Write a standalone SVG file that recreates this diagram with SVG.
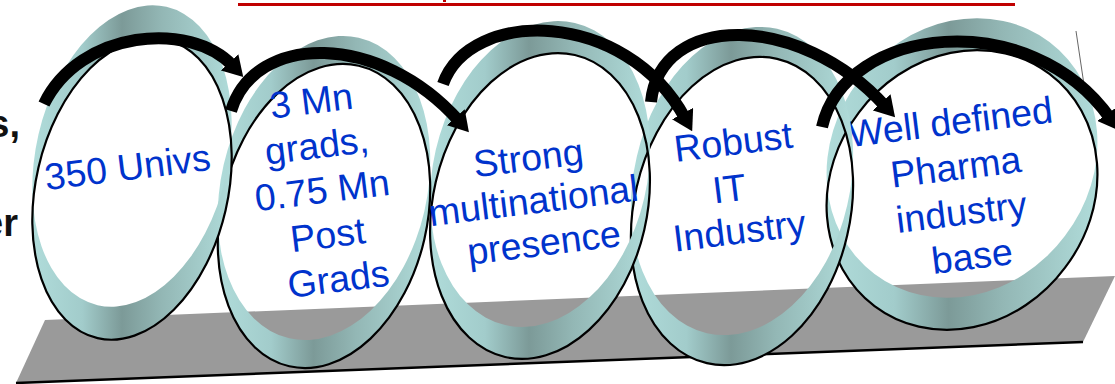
<svg xmlns="http://www.w3.org/2000/svg" width="1115" height="384" viewBox="0 0 1115 384">
  <defs>
    <style>
      .band { fill: url(#teal); fill-rule: evenodd; }
      .edge { fill: none; stroke: #000; stroke-width: 2.2; }
      .label { font-family: "Liberation Sans", Arial, sans-serif; font-size: 37.5px; fill: #0033cc; text-anchor: middle; }
      .side { font-family: "Liberation Sans", Arial, sans-serif; font-size: 38px; font-weight: bold; fill: #111; text-anchor: end; }
      .arrow { fill: none; stroke: #000; stroke-width: 12; marker-end: url(#head); }
    </style>
    <linearGradient id="teal" x1="0" y1="0" x2="1" y2="0">
      <stop offset="0" stop-color="#b0dcda"/>
      <stop offset="0.25" stop-color="#a2cccb"/>
      <stop offset="0.45" stop-color="#7c9a98"/>
      <stop offset="0.65" stop-color="#93b7b5"/>
      <stop offset="1" stop-color="#b0dcda"/>
    </linearGradient>
    <marker id="head" markerUnits="userSpaceOnUse" markerWidth="20" markerHeight="24" refX="5" refY="12" orient="auto">
      <path d="M0,0 L20,12 L0,24 Z" fill="#000"/>
    </marker>
  </defs>

  <!-- title rule -->
  <rect x="238" y="3" width="777" height="3" fill="#c00000"/>
  <rect x="443" y="0" width="3" height="2" fill="#c00000"/>

  <!-- clipped text at the left edge -->
  <g id="side-text">
    <text class="side" x="20" y="137">s,</text>
    <text class="side" x="18" y="236">er</text>
  </g>

  <!-- base platform -->
  <g id="platform">
    <polygon points="45,320 1115,276 1083,342 16,383" fill="#9a9a9a"/>
    <line x1="16" y1="383" x2="1083" y2="342" stroke="#000" stroke-width="2.5"/>
  </g>
  <line x1="1076" y1="31" x2="1090" y2="125" stroke="#666" stroke-width="1"/>

  <!-- rings: band = outer loop XOR inner loop, front edge stroked -->
  <g id="ring-5">
    <path class="band" d="M858.98,80.37 A129,144 37 1 0 1065.02,235.63 A129,144 37 1 0 858.98,80.37 Z M858.98,112.37 A129,144 37 1 0 1065.02,267.63 A129,144 37 1 0 858.98,112.37 Z"/>
    <path class="edge" d="M858.98,112.37 A129,144 37 1 0 1065.02,267.63 A129,144 37 1 0 858.98,112.37 Z"/>
    <text class="label" transform="translate(957 134) rotate(-7)">
      <tspan x="0" y="0">Well defined</tspan>
      <tspan x="0" y="45.5">Pharma</tspan>
      <tspan x="0" y="91">industry</tspan>
      <tspan x="0" y="136">base</tspan>
    </text>
  </g>

  <g id="ring-4">
    <path class="band" d="M636.77,156.71 A108,155 13 1 0 847.23,205.29 A108,155 13 1 0 636.77,156.71 Z M636.77,186.71 A108,155 13 1 0 847.23,235.29 A108,155 13 1 0 636.77,186.71 Z"/>
    <path class="edge" d="M636.77,186.71 A108,155 13 1 0 847.23,235.29 A108,155 13 1 0 636.77,186.71 Z"/>
    <text class="label" transform="translate(740 154) rotate(-7)">
      <tspan x="0" y="0">Robust</tspan>
      <tspan x="-10" y="46">IT</tspan>
      <tspan x="-10" y="89">Industry</tspan>
    </text>
  </g>

  <g id="ring-3">
    <path class="band" d="M435.74,149.93 A107,155 13 1 0 644.26,198.07 A107,155 13 1 0 435.74,149.93 Z M435.74,181.93 A107,155 13 1 0 644.26,230.07 A107,155 13 1 0 435.74,181.93 Z"/>
    <path class="edge" d="M435.74,181.93 A107,155 13 1 0 644.26,230.07 A107,155 13 1 0 435.74,181.93 Z"/>
    <text class="label" transform="translate(535 170) rotate(-7)">
      <tspan x="0" y="0">Strong</tspan>
      <tspan x="0" y="43">multinational</tspan>
      <tspan x="0" y="86">presence</tspan>
    </text>
  </g>

  <g id="ring-2">
    <path class="band" d="M223.64,164.83 A103,154 13 1 0 424.36,211.17 A103,154 13 1 0 223.64,164.83 Z M223.64,192.83 A103,154 13 1 0 424.36,239.17 A103,154 13 1 0 223.64,192.83 Z"/>
    <path class="edge" d="M223.64,192.83 A103,154 13 1 0 424.36,239.17 A103,154 13 1 0 223.64,192.83 Z"/>
    <text class="label" transform="translate(318 113) rotate(-7)">
      <tspan x="0" y="0">3 Mn</tspan>
      <tspan x="0" y="45">grads,</tspan>
      <tspan x="0" y="90">0.75 Mn</tspan>
      <tspan x="0" y="135">Post</tspan>
      <tspan x="0" y="180">Grads</tspan>
    </text>
  </g>

  <g id="ring-1">
    <path class="band" d="M38.46,134.4 A96,153 13 1 0 225.54,177.6 A96,153 13 1 0 38.46,134.4 Z M38.46,167.4 A96,153 13 1 0 225.54,210.6 A96,153 13 1 0 38.46,167.4 Z"/>
    <path class="edge" d="M38.46,167.4 A96,153 13 1 0 225.54,210.6 A96,153 13 1 0 38.46,167.4 Z"/>
    <text class="label" transform="translate(129 180) rotate(-7)">350 Univs</text>
  </g>

  <!-- connectors -->
  <g id="connectors">
    <path class="arrow" d="M44,104 C80,30 190,20 233,66"/>
    <path class="arrow" d="M231,111 C255,32 380,32 459,121"/>
    <path class="arrow" d="M443,84 C470,8 625,8 685,118"/>
    <path class="arrow" d="M651,102 C660,12 800,12 885,106"/>
    <path class="arrow" d="M822,127 C845,25 1030,5 1110,118"/>
  </g>
</svg>
